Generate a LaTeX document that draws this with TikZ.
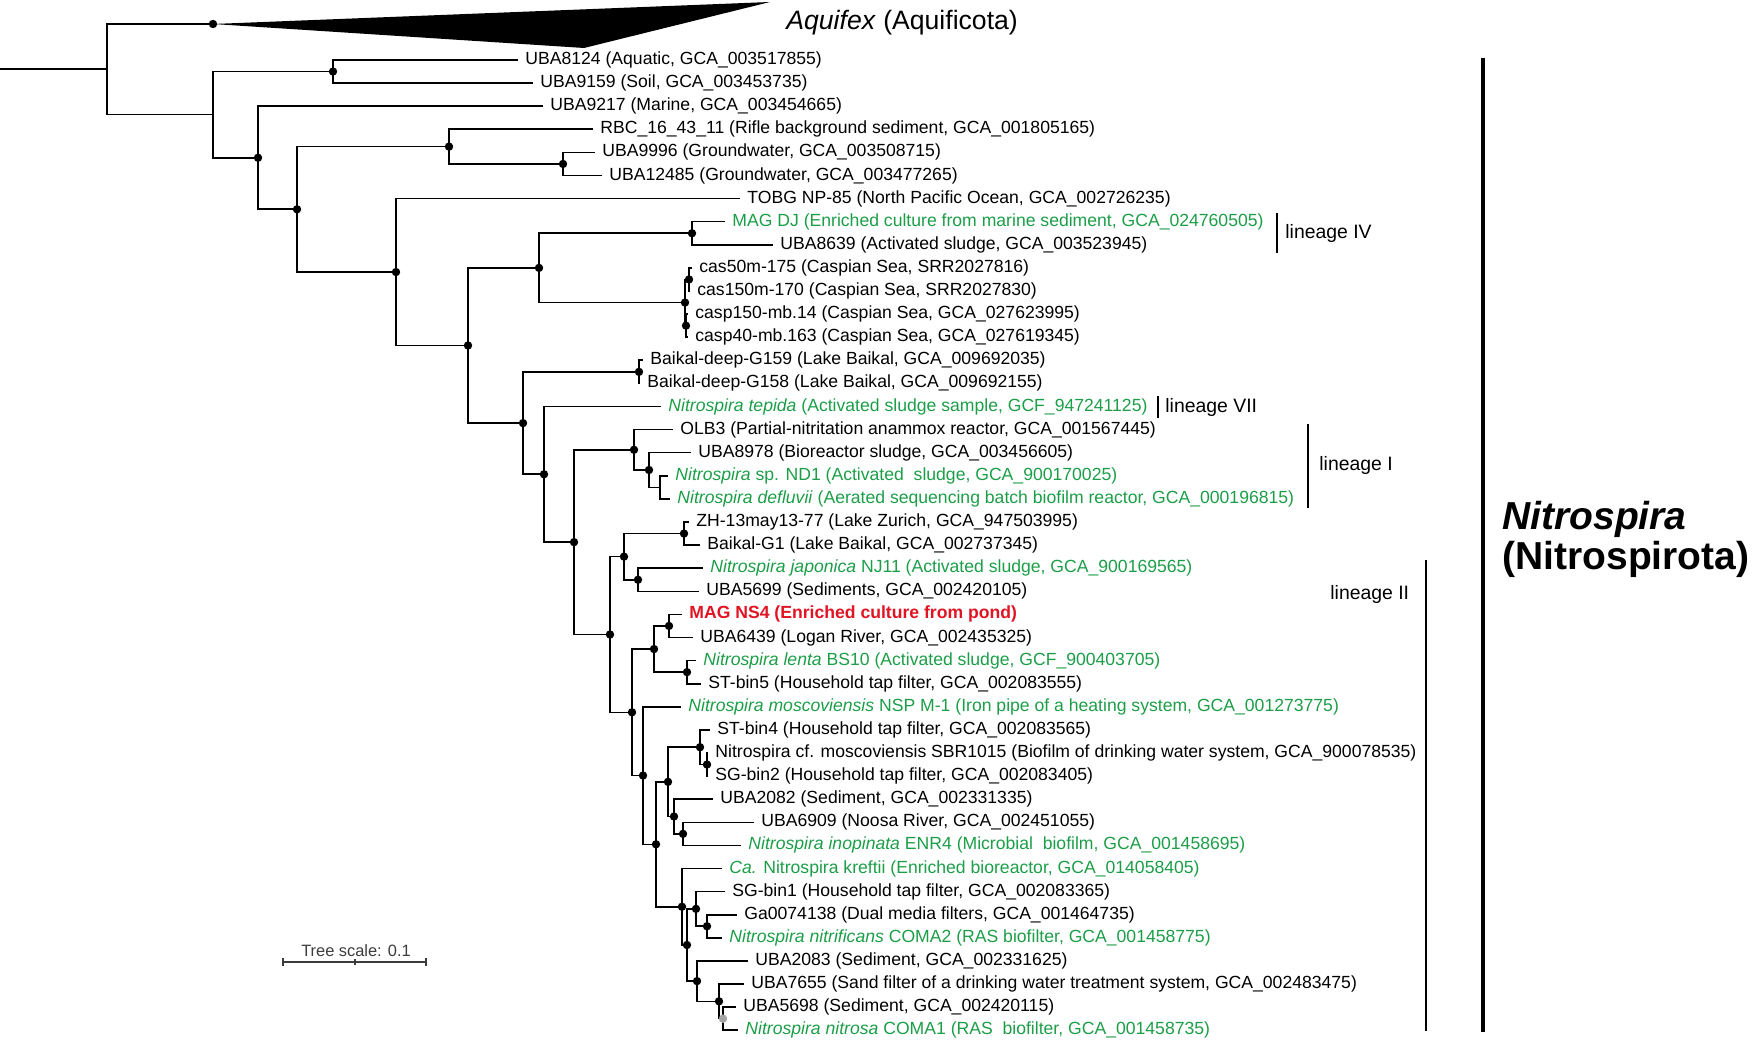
\documentclass[tikz,border=0pt]{standalone}
\usepackage{fontspec}
\setmainfont{Liberation Sans}
\usetikzlibrary{positioning}

\definecolor{refgreen}{RGB}{28,158,72}
\definecolor{nsred}{RGB}{225,20,35}
\definecolor{bootgray}{RGB}{165,165,165}
\definecolor{scalegray}{RGB}{60,60,60}

\newcommand\tipfont{\fontsize{8.8}{10}\selectfont}
\newcommand\linfont{\fontsize{9.7}{11}\selectfont}

\tikzset{
	branch/.style={line width=0.8pt},
	leaf/.style={anchor=west, inner xsep=3.5pt, inner ysep=1pt, font=\tipfont},
	cultured/.style={leaf, text=refgreen},
	ownmag/.style={leaf, text=nsred, font=\tipfont\bfseries},
	linbar/.style={line width=0.9pt},
	lintext/.style={anchor=west, inner sep=0pt, font=\linfont},
}

\begin{document}
\begin{tikzpicture}[x=0.5pt, y=-0.5pt]
			\useasboundingbox (0,0) rectangle (1754,1042);

			\node[leaf] (l0) at (518,60) {UBA8124 (Aquatic, GCA\_003517855)};
			\node[leaf] (l1) at (533,83.1) {UBA9159 (Soil, GCA\_003453735)};
			\node[leaf] (l2) at (543,106.2) {UBA9217 (Marine, GCA\_003454665)};
			\node[leaf] (l3) at (593,129.3) {RBC\_16\_43\_11 (Rifle background sediment, GCA\_001805165)};
			\node[leaf] (l4) at (595,152.4) {UBA9996 (Groundwater, GCA\_003508715)};
			\node[leaf] (l5) at (602,175.5) {UBA12485 (Groundwater, GCA\_003477265)};
			\node[leaf] (l6) at (740,198.6) {TOBG NP-85 (North Pacific Ocean, GCA\_002726235)};
			\node[cultured] (l7) at (725,221.7) {MAG DJ (Enriched culture from marine sediment, GCA\_024760505)};
			\node[leaf] (l8) at (773,244.8) {UBA8639 (Activated sludge, GCA\_003523945)};
			\node[leaf] (l9) at (692,267.9) {cas50m-175 (Caspian Sea, SRR2027816)};
			\node[leaf] (l10) at (690,291) {cas150m-170 (Caspian Sea, SRR2027830)};
			\node[leaf] (l11) at (688,314.1) {casp150-mb.14 (Caspian Sea, GCA\_027623995)};
			\node[leaf] (l12) at (688,337.2) {casp40-mb.163 (Caspian Sea, GCA\_027619345)};
			\node[leaf] (l13) at (643,360.3) {Baikal-deep-G159 (Lake Baikal, GCA\_009692035)};
			\node[leaf] (l14) at (640,383.4) {Baikal-deep-G158 (Lake Baikal, GCA\_009692155)};
			\node[cultured] (l15) at (661,406.5) {\textit{Nitrospira tepida} (Activated sludge sample, GCF\_947241125)};
			\node[leaf] (l16) at (673,429.6) {OLB3 (Partial-nitritation anammox reactor, GCA\_001567445)};
			\node[leaf] (l17) at (691,452.7) {UBA8978 (Bioreactor sludge, GCA\_003456605)};
			\node[cultured] (l18) at (668,475.8) {\textit{Nitrospira} sp. ND1 (Activated~ sludge, GCA\_900170025)};
			\node[cultured] (l19) at (670,498.9) {\textit{Nitrospira defluvii} (Aerated sequencing batch biofilm reactor, GCA\_000196815)};
			\node[leaf] (l20) at (689,522) {ZH-13may13-77 (Lake Zurich, GCA\_947503995)};
			\node[leaf] (l21) at (700,545.1) {Baikal-G1 (Lake Baikal, GCA\_002737345)};
			\node[cultured] (l22) at (703,568.2) {\textit{Nitrospira japonica} NJ11 (Activated sludge, GCA\_900169565)};
			\node[leaf] (l23) at (699,591.3) {UBA5699 (Sediments, GCA\_002420105)};
			\node[ownmag] (l24) at (682,614.4) {MAG NS4 (Enriched culture from pond)};
			\node[leaf] (l25) at (693,637.5) {UBA6439 (Logan River, GCA\_002435325)};
			\node[cultured] (l26) at (696,660.6) {\textit{Nitrospira lenta} BS10 (Activated sludge, GCF\_900403705)};
			\node[leaf] (l27) at (701,683.7) {ST-bin5 (Household tap filter, GCA\_002083555)};
			\node[cultured] (l28) at (681,706.8) {\textit{Nitrospira moscoviensis} NSP M-1 (Iron pipe of a heating system, GCA\_001273775)};
			\node[leaf] (l29) at (710,729.9) {ST-bin4 (Household tap filter, GCA\_002083565)};
			\node[leaf] (l30) at (708,753) {Nitrospira cf. moscoviensis SBR1015 (Biofilm of drinking water system, GCA\_900078535)};
			\node[leaf] (l31) at (708,776.1) {SG-bin2 (Household tap filter, GCA\_002083405)};
			\node[leaf] (l32) at (713,799.2) {UBA2082 (Sediment, GCA\_002331335)};
			\node[leaf] (l33) at (754,822.3) {UBA6909 (Noosa River, GCA\_002451055)};
			\node[cultured] (l34) at (741,845.4) {\textit{Nitrospira inopinata} ENR4 (Microbial~ biofilm, GCA\_001458695)};
			\node[cultured] (l35) at (722,868.5) {\textit{Ca.} Nitrospira kreftii (Enriched bioreactor, GCA\_014058405)};
			\node[leaf] (l36) at (725,891.6) {SG-bin1 (Household tap filter, GCA\_002083365)};
			\node[leaf] (l37) at (737,914.7) {Ga0074138 (Dual media filters, GCA\_001464735)};
			\node[cultured] (l38) at (722,937.8) {\textit{Nitrospira nitrificans} COMA2 (RAS biofilter, GCA\_001458775)};
			\node[leaf] (l39) at (748,960.9) {UBA2083 (Sediment, GCA\_002331625)};
			\node[leaf] (l40) at (744,984) {UBA7655 (Sand filter of a drinking water treatment system, GCA\_002483475)};
			\node[leaf] (l41) at (736,1007.1) {UBA5698 (Sediment, GCA\_002420115)};
			\node[cultured] (l42) at (738,1030.2) {\textit{Nitrospira nitrosa} COMA1 (RAS~ biofilter, GCA\_001458735)};

			\coordinate (r0) at (0,69.3);
			\coordinate (root) at (107,69.3);
			\coordinate (nB) at (213,114.65);
			\coordinate (nP2) at (660,487.35);
			\fill (213,24) circle (2.1pt) coordinate (aq);
			\fill (333,71.55) circle (2.1pt) coordinate (nA);
			\fill (258,157.75) circle (2.1pt) coordinate (nC);
			\fill (297,209.3) circle (2.1pt) coordinate (nD);
			\fill (449,146.6) circle (2.1pt) coordinate (nE);
			\fill (563,163.95) circle (2.1pt) coordinate (nF);
			\fill (396,272.05) circle (2.1pt) coordinate (nG);
			\fill (468,345.5) circle (2.1pt) coordinate (nH);
			\fill (539,267.9) circle (2.1pt) coordinate (nI);
			\fill (692,233.25) circle (2.1pt) coordinate (nK);
			\fill (685,302.55) circle (2.1pt) coordinate (nL);
			\fill (689,279.45) circle (2.1pt) coordinate (nL1);
			\fill (686,325.65) circle (2.1pt) coordinate (nL2);
			\fill (523,423.1) circle (2.1pt) coordinate (nJ);
			\fill (639,371.85) circle (2.1pt) coordinate (nM);
			\fill (544,474.3) circle (2.1pt) coordinate (nN);
			\fill (574,542.15) circle (2.1pt) coordinate (nO);
			\fill (634,449.8) circle (2.1pt) coordinate (nP);
			\fill (649,470) circle (2.1pt) coordinate (nP1);
			\fill (610,634.5) circle (2.1pt) coordinate (nQ);
			\fill (624,556.65) circle (2.1pt) coordinate (nR);
			\fill (684,533.55) circle (2.1pt) coordinate (nR1);
			\fill (638,579.75) circle (2.1pt) coordinate (nR2);
			\fill (632,712.3) circle (2.1pt) coordinate (nS);
			\fill (654,649.05) circle (2.1pt) coordinate (nT);
			\fill (669,625.95) circle (2.1pt) coordinate (nT1);
			\fill (687,672.15) circle (2.1pt) coordinate (nT2);
			\fill (643,775.55) circle (2.1pt) coordinate (nU);
			\fill (656,844.3) circle (2.1pt) coordinate (nV);
			\fill (668,781.85) circle (2.1pt) coordinate (nW);
			\fill (700,747.2) circle (2.1pt) coordinate (nW1);
			\fill (707,764.55) circle (2.1pt) coordinate (nW1a);
			\fill (674,816.5) circle (2.1pt) coordinate (nW2);
			\fill (683,833.85) circle (2.1pt) coordinate (nW2a);
			\fill (682,906.75) circle (2.1pt) coordinate (nX);
			\fill (687,945) circle (2.1pt) coordinate (nX1);
			\fill (696,908.9) circle (2.1pt) coordinate (nX2);
			\fill (707,926.25) circle (2.1pt) coordinate (nX2a);
			\fill (697,981.1) circle (2.1pt) coordinate (nX3);
			\fill (719,1001.3) circle (2.1pt) coordinate (nX3a);
			\coordinate (nX3b) at (723,1018.65);

			\fill (aq) -- (770,2) -- (584,48) -- cycle;
			\node[leaf, font=\fontsize{13.3}{15}\selectfont] (aqtext) at (779,23) {\textit{Aquifex} (Aquificota)};

			\draw[branch] (r0) -- (root);
			\draw[branch] (root) |- (aq) (root) |- (nB);
			\draw[branch] (nB) |- (nA) (nB) |- (nC);
			\draw[branch] (nA) |- (l0) (nA) |- (l1);
			\draw[branch] (nC) |- (l2) (nC) |- (nD);
			\draw[branch] (nD) |- (nE) (nD) |- (nG);
			\draw[branch] (nE) |- (l3) (nE) |- (nF);
			\draw[branch] (nF) |- (l4) (nF) |- (l5);
			\draw[branch] (nG) |- (l6) (nG) |- (nH);
			\draw[branch] (nH) |- (nI) (nH) |- (nJ);
			\draw[branch] (nI) |- (nK) (nI) |- (nL);
			\draw[branch] (nK) |- (l7) (nK) |- (l8);
			\draw[branch] (nL) |- (nL1) (nL) |- (nL2);
			\draw[branch] (nL1) |- (l9) (nL1) |- (l10);
			\draw[branch] (nL2) |- (l11) (nL2) |- (l12);
			\draw[branch] (nJ) |- (nM) (nJ) |- (nN);
			\draw[branch] (nM) |- (l13) (nM) |- (l14);
			\draw[branch] (nN) |- (l15) (nN) |- (nO);
			\draw[branch] (nO) |- (nP) (nO) |- (nQ);
			\draw[branch] (nP) |- (l16) (nP) |- (nP1);
			\draw[branch] (nP1) |- (l17) (nP1) |- (nP2);
			\draw[branch] (nP2) |- (l18) (nP2) |- (l19);
			\draw[branch] (nQ) |- (nR) (nQ) |- (nS);
			\draw[branch] (nR) |- (nR1) (nR) |- (nR2);
			\draw[branch] (nR1) |- (l20) (nR1) |- (l21);
			\draw[branch] (nR2) |- (l22) (nR2) |- (l23);
			\draw[branch] (nS) |- (nT) (nS) |- (nU);
			\draw[branch] (nT) |- (nT1) (nT) |- (nT2);
			\draw[branch] (nT1) |- (l24) (nT1) |- (l25);
			\draw[branch] (nT2) |- (l26) (nT2) |- (l27);
			\draw[branch] (nU) |- (l28) (nU) |- (nV);
			\draw[branch] (nV) |- (nW) (nV) |- (nX);
			\draw[branch] (nW) |- (nW1) (nW) |- (nW2);
			\draw[branch] (nW1) |- (l29) (nW1) |- (nW1a);
			\draw[branch] (nW1a) |- (l30) (nW1a) |- (l31);
			\draw[branch] (nW2) |- (l32) (nW2) |- (nW2a);
			\draw[branch] (nW2a) |- (l33) (nW2a) |- (l34);
			\draw[branch] (nX) |- (l35) (nX) |- (nX1);
			\draw[branch] (nX1) |- (nX2) (nX1) |- (nX3);
			\draw[branch] (nX2) |- (l36) (nX2) |- (nX2a);
			\draw[branch] (nX2a) |- (l37) (nX2a) |- (l38);
			\draw[branch] (nX3) |- (l39) (nX3) |- (nX3a);
			\draw[branch] (nX3a) |- (l40) (nX3a) |- (nX3b);
			\draw[branch] (nX3b) |- (l41) (nX3b) |- (l42);
			\fill[bootgray] (nX3b) circle (2.1pt);

			\draw[linbar] (1277,213) -- (1277,253);
			\node[lintext] (lin4) at (1285,233) {lineage IV};
			\draw[linbar] (1158,396) -- (1158,418);
			\node[lintext] (lin7) at (1165,407) {lineage VII};
			\draw[linbar] (1308,424) -- (1308,508);
			\node[lintext] (lin1) at (1319,465) {lineage I};
			\draw[line width=0.6pt] (1426,560) -- (1426,1031);
			\node[lintext] (lin2) at (1330,594) {lineage II};

			\draw[line width=1.8pt] (1483,58) -- (1483,1032);
			\node[anchor=base west, inner sep=0pt, font=\fontsize{19.5}{22}\selectfont\bfseries\itshape] (genus) at (1502,529) {Nitrospira};
			\node[anchor=base west, inner sep=0pt, font=\fontsize{19.5}{22}\selectfont\bfseries] (phylum) at (1502,569) {(Nitrospirota)};

			\draw[scalegray, line width=0.6pt] (283,962) -- (426,962);
			\draw[scalegray, line width=0.6pt] (283,958) -- (283,966) (355,959) -- (355,965) (426,958) -- (426,966);
			\node[text=scalegray, inner sep=0pt, font=\fontsize{8.2}{10}\selectfont] (scale) at (356,951) {Tree scale: 0.1};
		\end{tikzpicture}
\end{document}
